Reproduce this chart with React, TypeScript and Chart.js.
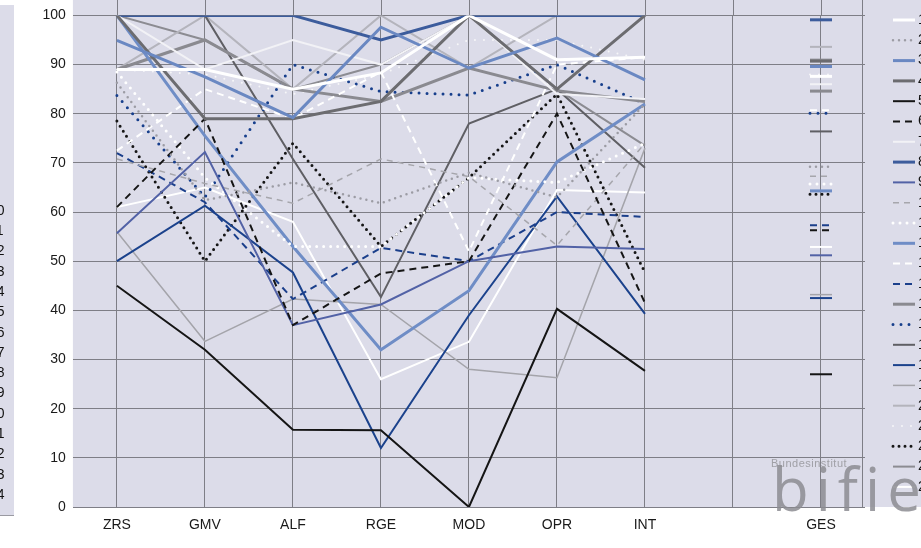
import React, { useEffect, useRef } from 'react';
import { Chart, registerables } from 'chart.js';

Chart.register(...registerables);

// ---------- data ----------
const categories = ['ZRS', 'GMV', 'ALF', 'RGE', 'MOD', 'OPR', 'INT', '', 'GES'];
const seriesLabels = ['1', '2', '3', '4', '5', '6', '7', '8', '9', '10', '11', '12', '13', '14', '15', '16', '17', '18', '19', '20', '21', '22', '23', '24'];
const panelLabels = ['1', '2', '3', '4', '5', '6', '7', '8', '9', '10', '11', '12', '13', '14', '15', '16', '17', '18', '19', '20', '21', '22', '23', '24'];

const s01 = [89, 89, 85, 88.3, 100, 91, 91.5];
const s02 = [86.3, 62.4, 66, 61.8, 68, 63, 82];
const s03 = [94.9, 87.5, 79.2, 97.6, 89.3, 95.4, 86.9];
const s04 = [100, 79, 79, 82.5, 100, 85, 100];
const s05 = [45, 32, 15.7, 15.6, 0, 40.3, 27.7];
const s06 = [61, 79, 37, 47.5, 50, 80, 41.5];
const s07 = [100, 89, 95, 90, 100, 84, 83];
const s08 = [100, 100, 100, 95, 100, 100, 100];
const s09 = [55.7, 72.2, 37, 41.2, 50, 53, 52.5];
const s10 = [70.8, 65.8, 61.8, 70.8, 67.2, 53.2, 74];
const s11 = [88.5, 67, 53, 53, 67, 66, 74];
const s12 = [100, 75.5, 53, 32, 44, 70.2, 82];
const s13 = [72.5, 85, 79, 88.5, 52, 90, 91.5];
const s14 = [72, 62, 42.3, 52.7, 50, 60, 59];
const s15 = [89, 95, 85, 82.5, 89.3, 84.7, 82.5];
const s16 = [83.7, 63, 90, 84.5, 83.8, 90, 82];
const s17 = [100, 100, 70.8, 42.7, 78, 85, 69];
const s18 = [50, 61.3, 47.7, 12, 39, 63.2, 39.3];
const s19 = [56, 33.7, 42.3, 41.2, 28, 26.3, 73];
const s20 = [89, 100, 85, 100, 89.3, 100, 100];
const s21 = [89, 88, 84, 88, 95, 95, 91];
const s22 = [78.5, 50, 74, 53, 67, 84, 47.7];
const s23 = [100, 95, 85, 90, 100, 85, 73.5];
const s24 = [61, 65, 58, 26, 33.6, 64.5, 64];

const gesValues = [87.6, 69.2, 89.6, 90.7, 27, 56.3, 86, 99.1, 51.2, 67.3, 65.7, 64.3, 80.7, 57.3, 84.6, 80.1, 76.4, 42.5, 43.2, 93.6, 88, 63.6, 91, 52.9];

const seriesData = [s01, s02, s03, s04, s05, s06, s07, s08, s09, s10, s11, s12, s13, s14, s15, s16, s17, s18, s19, s20, s21, s22, s23, s24];

// ---------- styles ----------
type Style = { color: string; width: number; dash: number[]; cap: CanvasLineCap };
const st = (color: string, width: number, dash: number[] = [], cap: CanvasLineCap = 'butt'): Style => ({ color, width, dash, cap });

const styles: Style[] = [
  st('#ffffff', 3),
  st('#9c9ca4', 2.5, [0, 6], 'round'),
  st('#6a88c2', 3),
  st('#6c6c70', 3),
  st('#151515', 2),
  st('#151515', 2, [7, 5]),
  st('#f2f2f6', 2),
  st('#3c5c9c', 3),
  st('#5262a6', 2),
  st('#a6a6ac', 1.5, [6, 5]),
  st('#ffffff', 3, [0, 7], 'round'),
  st('#6f8dc6', 3),
  st('#ffffff', 2, [7, 5]),
  st('#1b3f8b', 2, [7, 5]),
  st('#8a8a90', 3),
  st('#173f8c', 3, [0, 8], 'round'),
  st('#5f5f64', 2),
  st('#1b428c', 2),
  st('#a4a4aa', 1.5),
  st('#b4b4bc', 2),
  st('#f6f6f8', 2, [0, 9], 'round'),
  st('#151515', 3, [0, 6], 'round'),
  st('#8c8c92', 2),
  st('#ffffff', 2),
];

const FONT = '"Liberation Sans", Arial, Helvetica, sans-serif';
const BG = '#dcdce9';
const GRID = '#7e7e86';

const decorPlugin = {
  id: 'decor',
  beforeDraw(chart: any) {
    const { ctx, chartArea, width, height } = chart;
    ctx.save();
    ctx.fillStyle = '#ffffff';
    ctx.fillRect(0, 0, width, height);
    ctx.fillStyle = BG;
    ctx.fillRect(chartArea.left, 0, width - chartArea.left, chartArea.bottom);
    ctx.restore();
  },
  beforeDatasetsDraw(chart: any) {
    const { ctx, chartArea, scales } = chart;
    const xs = scales.x;
    ctx.save();
    ctx.strokeStyle = GRID;
    ctx.lineWidth = 1;
    xs.ticks.forEach((_: any, i: number) => {
      const px = Math.round(xs.getPixelForTick(i)) + 0.5;
      ctx.beginPath();
      ctx.moveTo(px, 0);
      ctx.lineTo(px, chartArea.top);
      ctx.stroke();
    });
    const rx = Math.round(chartArea.right) - 2.5;
    ctx.beginPath();
    ctx.moveTo(rx, 0);
    ctx.lineTo(rx, chartArea.bottom);
    ctx.stroke();
    ctx.restore();
  },
  afterDatasetsDraw(chart: any) {
    const { ctx } = chart;
    for (let i = chart.data.datasets.length - 1; i >= 0; i--) {
      const meta = chart.getDatasetMeta(i);
      const pt = meta.data[8];
      if (!pt) continue;
      const s = styles[i];
      ctx.save();
      ctx.strokeStyle = s.color;
      ctx.lineWidth = s.width;
      ctx.setLineDash(s.dash);
      ctx.lineCap = s.cap;
      ctx.beginPath();
      ctx.moveTo(pt.x - 11, pt.y);
      ctx.lineTo(pt.x + 11, pt.y);
      ctx.stroke();
      ctx.restore();
    }
  },
  afterDraw(chart: any) {
    const { ctx } = chart;
    ctx.save();
    seriesLabels.forEach((lab, i) => {
      const y = 20 + i * 20.3;
      const s = styles[i];
      ctx.strokeStyle = s.color;
      ctx.lineWidth = s.width;
      ctx.setLineDash(s.dash);
      ctx.lineCap = s.cap;
      ctx.beginPath();
      ctx.moveTo(893, y);
      ctx.lineTo(915, y);
      ctx.stroke();
      ctx.setLineDash([]);
      ctx.fillStyle = '#111';
      ctx.font = `14px ${FONT}`;
      ctx.textBaseline = 'middle';
      ctx.textAlign = 'left';
      ctx.fillText(lab, 918, y);
    });
    ctx.restore();
  },
};

export default function App() {
  const ref = useRef<HTMLCanvasElement | null>(null);

  useEffect(() => {
    if (!ref.current) return;
    const chart = new Chart(ref.current, {
      type: 'line',
      data: {
        labels: categories,
        datasets: seriesData.map((d, i) => ({
          label: seriesLabels[i],
          data: [...d, null, gesValues[i]],
          borderColor: styles[i].color,
          borderWidth: styles[i].width,
          borderDash: styles[i].dash,
          borderCapStyle: styles[i].cap,
          pointRadius: 0,
          pointHoverRadius: 0,
          tension: 0,
          fill: false,
          spanGaps: false,
        })),
      },
      options: {
        responsive: false,
        animation: false,
        events: [],
        layout: { padding: { left: 0, top: 10, right: 135, bottom: 0 } },
        plugins: { legend: { display: false }, tooltip: { enabled: false } },
        scales: {
          x: {
            type: 'category',
            offset: true,
            grid: { offset: false, color: GRID, drawTicks: false },
            border: { display: false },
            ticks: { font: { family: FONT, size: 14 }, color: '#1a1a1a', padding: 10, maxRotation: 0, autoSkip: false },
            afterFit: (a: any) => { a.height = 41; },
          },
          y: {
            min: 0,
            max: 100,
            ticks: { stepSize: 10, font: { family: FONT, size: 14 }, color: '#1a1a1a', padding: 7 },
            grid: { color: GRID, drawTicks: false },
            border: { display: false },
            afterFit: (a: any) => { a.width = 72.9; },
          },
        },
      },
      plugins: [decorPlugin],
    } as any);
    return () => chart.destroy();
  }, []);

  return (
    <div style={{ position: 'absolute', left: 0, top: 0, width: 921, height: 548, overflow: 'hidden', background: '#fff' }}>
      <canvas ref={ref} width={1000} height={548} style={{ position: 'absolute', left: 0, top: 0 }} />
      <div style={{ position: 'absolute', left: -200, top: 5, width: 214, height: 510, background: BG, borderBottom: '1px solid #9a9aa2', willChange: 'transform' }}>
        {panelLabels.map((l, i) => (
          <div key={l} style={{ position: 'absolute', left: 189, top: 22 + i * 20.3 - 10, height: 20, lineHeight: '20px', fontFamily: FONT, fontSize: 14, color: '#111' }}>{l}</div>
        ))}
      </div>
      <div style={{ position: 'absolute', left: 771, top: 457, fontFamily: FONT, fontSize: 11, letterSpacing: 0.5, color: '#a0a0a6' }}>Bundesinstitut</div>
      <div style={{ position: 'absolute', left: 772, top: 455, fontFamily: '"Open Sans", sans-serif', fontSize: 60, lineHeight: '66px', color: 'rgba(140,140,146,0.85)', letterSpacing: 7 }}>bifie</div>
    </div>
  );
}
